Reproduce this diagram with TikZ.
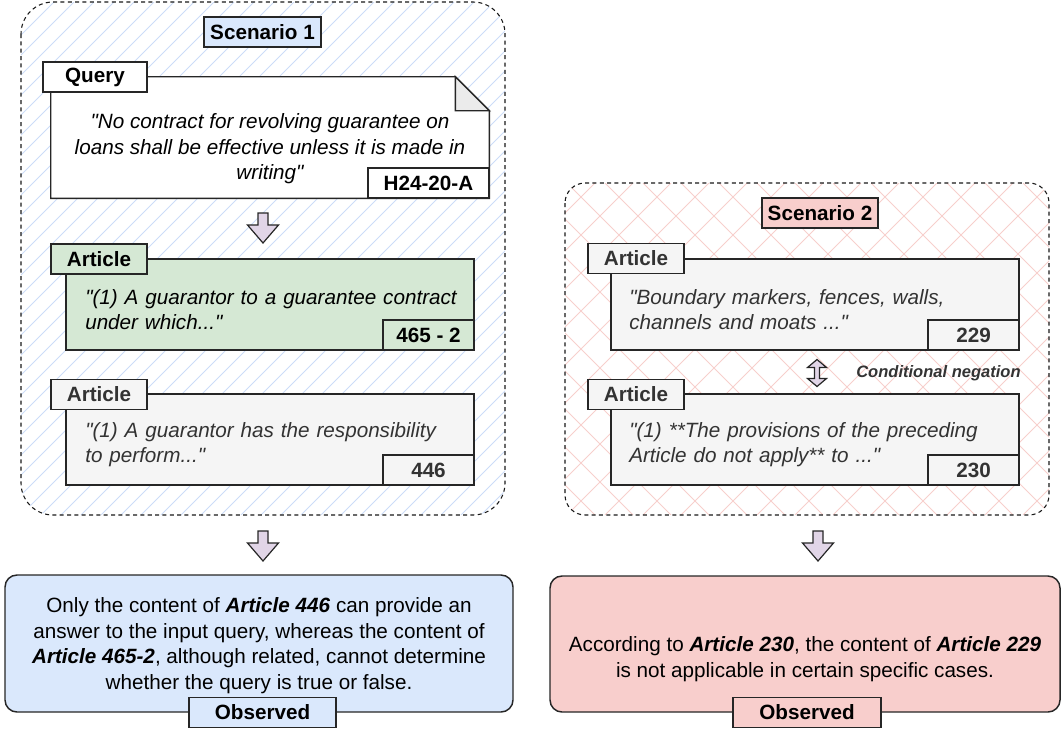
\documentclass[tikz,border=0pt]{standalone}
\usepackage{fontspec}
\setmainfont{Liberation Sans}[Ligatures=TeXOff]
\usetikzlibrary{calc}

\definecolor{blueFill}{HTML}{DAE8FC}
\definecolor{greenFill}{HTML}{D5E8D4}
\definecolor{redFill}{HTML}{F8CECC}
\definecolor{purpleFill}{HTML}{E1D5E7}
\definecolor{grayFill}{HTML}{F5F5F5}
\definecolor{foldFill}{HTML}{EBEBEB}
\definecolor{grayText}{HTML}{333333}
\definecolor{blueHatch}{HTML}{CCDCF8}
\definecolor{redHatch}{HTML}{F7CFCC}

\newcommand{\bodysize}{\fontsize{15.5}{19.2}\selectfont}
\newcommand{\smallsize}{\fontsize{12.4}{14}\selectfont}

\tikzset{
  boxline/.style={draw=black!85, line width=1.1pt},
  box/.style={boxline, inner sep=0pt, align=center},
  tab/.style={box, font=\bodysize\bfseries, minimum width=72pt, minimum height=22.5pt},
  numbox/.style={box, font=\bodysize\bfseries, minimum width=68.25pt, minimum height=22.5pt},
  artbody/.style={box, minimum width=306pt, minimum height=68.25pt},
  arttext/.style={anchor=west, inner sep=0pt, text width=300pt, align=left, font=\bodysize\itshape},
  grayart/.style={fill=grayFill, text=grayText},
  frame/.style={draw=black!90, line width=0.8pt, dash pattern=on 3pt off 2.5pt},
  resbox/.style={boxline, rounded corners=9pt, inner sep=0pt},
  restext/.style={inner sep=0pt, align=center, font=\bodysize},
  blockarrow/.style={draw=black!85, line width=0.9pt, fill=purpleFill},
  pics/downarrow/.style={code={
    \draw[blockarrow] (-5,-15) -- (5,-15) -- (5,-3) -- (15.5,-3) -- (0,15)
      -- (-15.5,-3) -- (-5,-3) -- cycle;
  }},
  pics/bothways/.style={code={
    \draw[blockarrow] (-2.5,-5.5) -- (-2.5,5.5) -- (-9.5,5.5) -- (0,13.5) -- (9.5,5.5)
      -- (2.5,5.5) -- (2.5,-5.5) -- (9.5,-5.5) -- (0,-13.5) -- (-9.5,-5.5) -- cycle;
  }}
}

\begin{document}
\begin{tikzpicture}[x=0.75pt, y=-0.75pt, font=\bodysize]
  \useasboundingbox (0,0) rectangle (1062,728);

  % scenario 1 frame, hatched
  \begin{scope}
    \clip[rounded corners=24pt] (21,2) rectangle (505,515);
    \foreach \i in {-520,-500,...,500}
      \draw[blueHatch, line width=0.6pt] (21+\i,515) -- (534+\i,2);
  \end{scope}
  \draw[frame, rounded corners=24pt] (21,2) rectangle (505,515);

  % scenario 2 frame, cross hatched
  \begin{scope}
    \clip[rounded corners=15pt] (565,183) rectangle (1049,515);
    \foreach \i in {-340,-302,...,500} {
      \draw[redHatch, line width=0.6pt] (565+\i,515) -- (897+\i,183);
      \draw[redHatch, line width=0.6pt] (565+\i,183) -- (897+\i,515);
    }
  \end{scope}
  \draw[frame, rounded corners=15pt] (565,183) rectangle (1049,515);

  \node[box, fill=blueFill, font=\bodysize\bfseries, minimum width=87.75pt, minimum height=22.5pt] (scen1) at (262.5,32) {Scenario 1};
  \node[box, fill=redFill, font=\bodysize\bfseries, minimum width=87pt, minimum height=22.5pt] (scen2) at (820,213) {Scenario 2};

  % query note
  \node[inner sep=0pt, minimum width=328.5pt, minimum height=90.75pt] (qbody) at (270,137.5) {};
  \draw[boxline, fill=white] (qbody.north west) -- ($(qbody.north east)+(-34,0)$)
    -- ($(qbody.north east)+(0,34)$) -- (qbody.south east) -- (qbody.south west) -- cycle;
  \draw[boxline, fill=foldFill] ($(qbody.north east)+(-34,0)$) -- ($(qbody.north east)+(-34,34)$)
    -- ($(qbody.north east)+(0,34)$) -- cycle;
  \node[tab, fill=white, minimum width=78pt] (qtab) at (95,77) {Query};
  \node[numbox, fill=white, minimum width=90.75pt] (qid) at (428.5,183) {H24-20-A};
  \node[restext, font=\bodysize\itshape] (qtext) at (270,149)
    {"No contract for revolving guarantee on\\loans shall be effective unless it is made in\\writing"};

  \pic at (263,228) {downarrow};

  % article 465-2
  \node[artbody, fill=greenFill] (a1body) at (270,304.5) {};
  \node[tab, fill=greenFill] (a1tab) at (99,259) {Article};
  \node[numbox, fill=greenFill] (a1num) at (428.5,335) {465 - 2};
  \node[arttext] (a1text) at (85,309.5) {"(1) A guarantor to a guarantee contract\\under which..."};

  % article 446
  \node[artbody, grayart] (a2body) at (270,439.5) {};
  \node[tab, grayart] (a2tab) at (99,394.5) {Article};
  \node[numbox, grayart] (a2num) at (428.5,470) {446};
  \node[arttext, text=grayText] (a2text) at (85,444.5) {"(1) A guarantor has the responsibility\\to perform..."};

  % article 229
  \node[artbody, grayart] (b1body) at (815,304.5) {};
  \node[tab, grayart] (b1tab) at (636,258.5) {Article};
  \node[numbox, grayart] (b1num) at (973.5,335) {229};
  \node[arttext, text=grayText] (b1text) at (629,309.5) {"Boundary markers, fences, walls,\\channels and moats ..."};

  \pic at (817,373) {bothways};
  \node[anchor=west, inner sep=0pt, text=grayText, font=\smallsize\bfseries\itshape] (cneg) at (856,373) {Conditional negation};

  % article 230
  \node[artbody, grayart] (b2body) at (815,439.5) {};
  \node[tab, grayart] (b2tab) at (636,394.5) {Article};
  \node[numbox, grayart] (b2num) at (973.5,470) {230};
  \node[arttext, text=grayText] (b2text) at (629,444.5) {"(1) **The provisions of the preceding\\Article do not apply** to ..."};

  \pic at (263,546) {downarrow};
  \pic at (818,546) {downarrow};

  % observations
  \node[resbox, fill=blueFill, minimum width=381pt, minimum height=102.75pt] (res1) at (259,643.5) {};
  \node[restext] (res1text) at (259,645.5)
    {Only the content of \textbf{\textit{Article 446}} can provide an\\
     answer to the input query, whereas the content of\\
     \textbf{\textit{Article 465-2}}, although related, cannot determine\\
     whether the query is true or false.};
  \node[tab, fill=blueFill, minimum width=110.25pt] (obs1) at (262.5,712.5) {Observed};

  \node[resbox, fill=redFill, minimum width=382.5pt, minimum height=102pt] (res2) at (805,644) {};
  \node[restext] (res2text) at (805,659)
    {According to \textbf{\textit{Article 230}}, the content of \textbf{\textit{Article 229}}\\
     is not applicable in certain specific cases.};
  \node[tab, fill=redFill, minimum width=111pt] (obs2) at (807,712.5) {Observed};
\end{tikzpicture}
\end{document}
